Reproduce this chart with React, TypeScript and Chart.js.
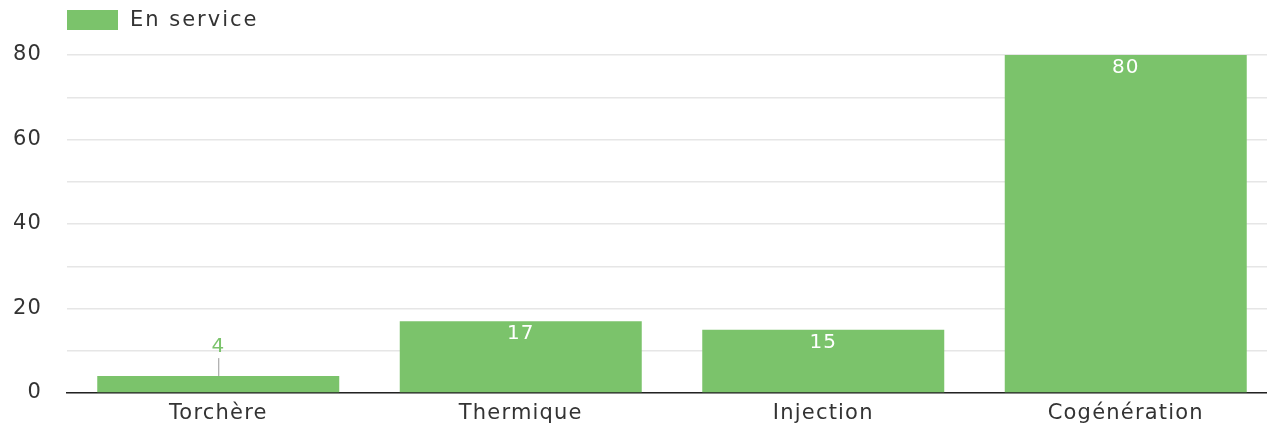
import React, { useEffect, useRef } from "react";
import { Chart, registerables } from "chart.js";

Chart.register(...registerables);

const categories = ["Torchère", "Thermique", "Injection", "Cogénération"];
const seriesName = "En service";
const values = [4, 17, 15, 80];
const yTickValues = [0, 20, 40, 60, 80];

const GREEN = "#7bc36b";
const TEXT = "#333333";
const FONT = "'DejaVu Sans', sans-serif";

const spacingPlugin = {
  id: "spacing",
  beforeDraw(chart: any) {
    chart.ctx.letterSpacing = "1.2px";
  },
};

const legendPlugin = {
  id: "customLegend",
  afterDraw(chart: any) {
    const ctx = chart.ctx;
    const left = chart.chartArea.left;
    ctx.save();
    ctx.letterSpacing = "2px";
    ctx.fillStyle = GREEN;
    ctx.fillRect(left, 10, 51, 20);
    ctx.fillStyle = TEXT;
    ctx.font = `21px ${FONT}`;
    ctx.textAlign = "left";
    ctx.textBaseline = "middle";
    ctx.fillText(seriesName, left + 63, 21);
    ctx.restore();
  },
};

const labelPlugin = {
  id: "barLabels",
  afterDatasetsDraw(chart: any) {
    const ctx = chart.ctx;
    const meta = chart.getDatasetMeta(0);
    ctx.save();
    ctx.letterSpacing = "1px";
    ctx.font = `20px ${FONT}`;
    ctx.textAlign = "center";
    ctx.textBaseline = "middle";
    meta.data.forEach((bar: any, i: number) => {
      const v = values[i];
      const h = bar.base - bar.y;
      if (h > 30) {
        ctx.fillStyle = "#ffffff";
        ctx.fillText(String(v), bar.x, bar.y + 13);
      } else {
        ctx.strokeStyle = "#999999";
        ctx.lineWidth = 1;
        ctx.beginPath();
        ctx.moveTo(bar.x + 0.5, bar.y);
        ctx.lineTo(bar.x + 0.5, bar.y - 18);
        ctx.stroke();
        ctx.fillStyle = GREEN;
        ctx.fillText(String(v), bar.x, bar.y - 29);
      }
    });
    ctx.restore();
  },
};

export default function App() {
  const ref = useRef<HTMLCanvasElement>(null);
  useEffect(() => {
    if (!ref.current) return;
    const chart = new Chart(ref.current, {
      type: "bar",
      data: {
        labels: categories,
        datasets: [
          {
            label: seriesName,
            data: values,
            backgroundColor: GREEN,
            borderWidth: 0,
            barPercentage: 0.8,
            categoryPercentage: 1,
          },
        ],
      },
      options: {
        responsive: false,
        animation: false,
        layout: { padding: { top: 55, left: 0, right: 0, bottom: 0 } },
        plugins: {
          legend: { display: false },
          tooltip: { enabled: false },
        },
        scales: {
          x: {
            grid: { display: false, drawTicks: false },
            border: { display: true, color: "#222222", width: 1.5 },
            ticks: {
              color: TEXT,
              font: { family: FONT, size: 21 },
              padding: 8,
              maxRotation: 0,
            },
            afterFit: (scale: any) => {
              scale.height = 31;
              scale.paddingLeft = 0;
              scale.paddingRight = 0;
            },
          },
          y: {
            min: 0,
            max: 80,
            grid: { color: "#e6e6e6", lineWidth: 1.5, drawTicks: false },
            border: { display: false },
            ticks: {
              stepSize: 10,
              color: TEXT,
              font: { family: FONT, size: 21 },
              padding: 25,
              callback: (v: any) => (yTickValues.includes(Number(v)) ? String(v) : ""),
            },
            afterFit: (scale: any) => {
              scale.width = 67;
              scale.paddingTop = 0;
              scale.paddingBottom = 0;
            },
          },
        },
      },
      plugins: [spacingPlugin, legendPlugin, labelPlugin],
    });
    return () => chart.destroy();
  }, []);
  return (
    <div
      style={{
        position: "fixed",
        left: 0,
        top: 0,
        width: 1267,
        height: 424,
        overflow: "hidden",
        background: "#fff",
      }}
    >
      <canvas ref={ref} width={1277} height={424} />
    </div>
  );
}
